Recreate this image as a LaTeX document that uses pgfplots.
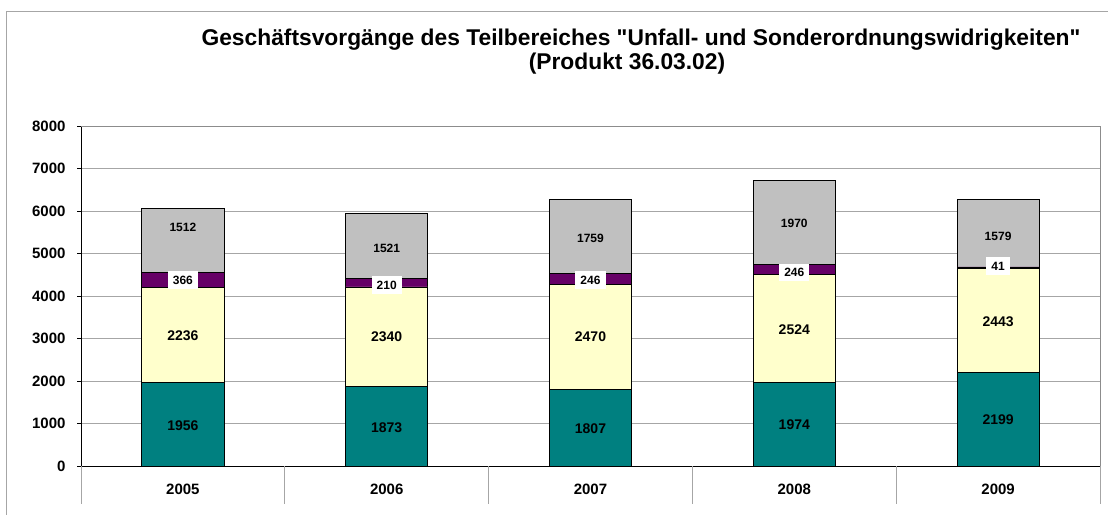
\documentclass[border=0pt]{standalone}
\usepackage{pgfplots}
\pgfplotsset{compat=1.18}
\usepackage{fontspec}
\setmainfont{Liberation Sans}[Ligatures=TeXOff]
\definecolor{cteal}{HTML}{008080}
\definecolor{cyel}{HTML}{FFFFCC}
\definecolor{cpur}{HTML}{660066}
\definecolor{cgray}{HTML}{C0C0C0}
\definecolor{gridc}{HTML}{A6A6A6}
\definecolor{framec}{HTML}{8C8C8C}
\newcommand{\fs}[1]{\fontsize{#1}{#1}\selectfont}
\begin{document}
\begin{tikzpicture}[x=1pt,y=1pt]
\path[use as bounding box] (0,0) rectangle (1108,514);
\draw[gridc, line width=0.8pt] (6,-5) -- (6,503) -- (1115,503);
\node[font=\bfseries\fs{22.8}] at (641,474) {Geschäftsvorgänge des Teilbereiches "Unfall- und Sonderordnungswidrigkeiten"};
\node[font=\bfseries\fs{22.8}] at (627,450) {(Produkt 36.03.02)};
\pgfplotsset{base/.style={
  at={(81pt,48pt)}, anchor=south west,
  scale only axis, width=1019pt, height=340pt,
  xmin=-0.5, xmax=4.5, ymin=0, ymax=8000,
}}
\begin{axis}[base,
  ybar stacked, bar width=82pt,
  axis x line*=bottom, axis y line*=left,
  axis line style={black, line width=0.9pt},
  ytick={0,1000,...,8000},
  ymajorgrids, grid style={gridc, line width=0.8pt},
  tick align=outside,
  y tick style={black, line width=0.8pt}, major tick length=4pt,
  xtick={0,1,2,3,4},
  xticklabels={2005,2006,2007,2008,2009},
  x tick style={draw=none},
  /pgf/number format/assume math mode=true,
  /pgf/number format/set thousands separator={},
  yticklabel style={font=\bfseries\fs{15}, xshift=-8pt},
  xticklabel style={font=\bfseries\fs{15}, yshift=-10pt},
  clip=false,
]
\addplot[fill=cteal, draw=black, line width=0.8pt] coordinates {(0,1956) (1,1873) (2,1807) (3,1974) (4,2199)};
\addplot[fill=cyel, draw=black, line width=0.8pt] coordinates {(0,2236) (1,2340) (2,2470) (3,2524) (4,2443)};
\addplot[fill=cpur, draw=black, line width=0.8pt] coordinates {(0,366) (1,210) (2,246) (3,246) (4,41)};
\addplot[fill=cgray, draw=black, line width=0.8pt] coordinates {(0,1512) (1,1521) (2,1759) (3,1970) (4,1579)};
\draw[framec, line width=0.9pt] (rel axis cs:0,1) -- (rel axis cs:1,1) -- (rel axis cs:1,0);
\pgfplotsinvokeforeach{-0.5,0.5,1.5,2.5,3.5,4.5}{
  \draw[gridc, line width=0.8pt] (axis cs:#1,0) -- ++(0pt,-38pt);
}
\draw[black, line width=0.9pt] (rel axis cs:0,0) -- (rel axis cs:1,0);
\end{axis}
\begin{axis}[base, hide axis, clip=false,
  nodes near coords, point meta=explicit symbolic,
  every node near coord/.append style={anchor=center, text=black}]
\addplot[draw=none, mark=none, every node near coord/.append style={font=\bfseries\fs{14}}]
  coordinates {(0,948)[1956] (1,901)[1873] (2,871)[1807] (3,965)[1974] (4,1082)[2199]};
\addplot[draw=none, mark=none, every node near coord/.append style={font=\bfseries\fs{14}}]
  coordinates {(0,3059)[2236] (1,3035)[2340] (2,3035)[2470] (3,3200)[2524] (4,3396)[2443]};
\addplot[draw=none, mark=none, every node near coord/.append style={font=\bfseries\fs{12}, fill=white, inner xsep=5pt, inner ysep=4.5pt, text height=8.6pt, text depth=0pt}]
  coordinates {(0,4376)[366] (1,4259)[210] (2,4376)[246] (3,4549)[246] (4,4706)[41]};
\addplot[draw=none, mark=none, every node near coord/.append style={font=\bfseries\fs{12}}]
  coordinates {(0,5607)[1512] (1,5129)[1521] (2,5365)[1759] (3,5718)[1970] (4,5396)[1579]};
\end{axis}
\end{tikzpicture}
\end{document}
